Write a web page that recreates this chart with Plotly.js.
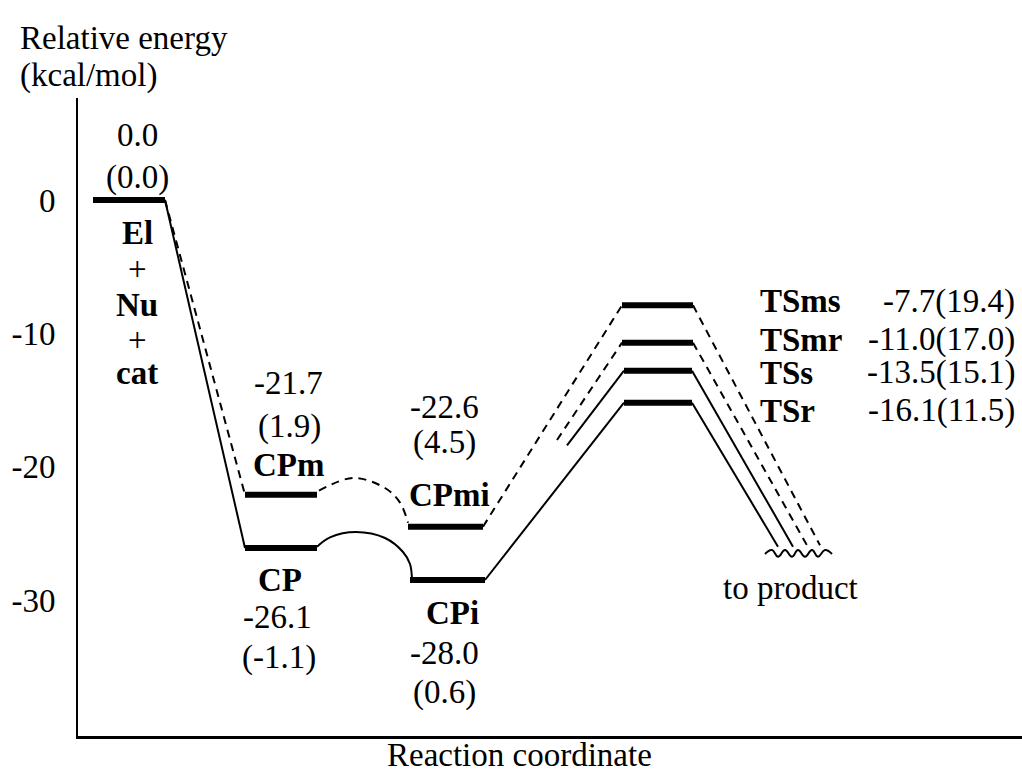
<!DOCTYPE html>
<html><head><meta charset="utf-8">
<script src="https://cdn.plot.ly/plotly-3.0.1.min.js"></script>
<style>html,body{margin:0;padding:0;background:#fff}</style>
</head><body>
<div id="chart" style="width:1022px;height:775px"></div>
<script>
// ---- data (reaction-coordinate positions and energy levels) ----
const stateNames   = ['El', 'CPm', 'CP', 'CPmi', 'CPi', 'TSms', 'TSmr', 'TSs', 'TSr'];
const stateLevel   = [0, -22.1, -26.1, -24.5, -28.5, -7.9, -10.7, -12.8, -15.2];
const stateStart   = [15, 167, 167, 330, 332, 544, 544, 546, 546];
const stateEnd     = [87, 239, 239, 405, 407, 615, 615, 614, 614];
const energyText   = ['0.0', '-21.7', '-26.1', '-22.6', '-28.0', '-7.7', '-11.0', '-13.5', '-16.1'];
const freeText     = ['0.0', '1.9', '-1.1', '4.5', '0.6', '19.4', '17.0', '15.1', '11.5'];

const yTickVals  = [0, -10, -20, -30];
const yTickText  = ['0', '-10', '-20', '-30'];

// solid pathway (CP / CPi / TSs / TSr)
const pathElCP_x   = [87, 167];        const pathElCP_y   = [0, -26.1];
const arcCP_x      = [239, 252, 278, 307, 325, 332, 334];
const arcCP_y      = [-26.0, -25.3, -24.9, -25.35, -26.4, -27.3, -28.5];
const pathCPiTSr_x = [407, 546];       const pathCPiTSr_y = [-28.5, -15.2];
const pathTSs_x    = [489, 546];       const pathTSs_y    = [-18.4, -12.8];
const outTSr_x     = [614, 700];       const outTSr_y     = [-15.2, -26.0];
const outTSs_x     = [614, 715];       const outTSs_y     = [-12.8, -26.0];
// dashed pathway (CPm / CPmi / TSms / TSmr)
const pathElCPm_x  = [87, 167];        const pathElCPm_y  = [0, -22.1];
const arcCPm_x     = [241, 275, 307, 322, 330];
const arcCPm_y     = [-21.8, -20.85, -21.6, -22.7, -24.2];
const pathCPmiTSms_x = [405, 544];     const pathCPmiTSms_y = [-24.5, -7.9];
const pathTSmr_x   = [479, 544];       const pathTSmr_y   = [-18.0, -10.7];
const outTSms_x    = [615, 742];       const outTSms_y    = [-7.9, -25.9];
const outTSmr_x    = [615, 729];       const outTSmr_y    = [-10.7, -25.9];
// wavy "to product" break
const waveX = [687, 694, 700, 707, 714, 720, 727, 734, 740, 747, 754];
const waveY = [-26.55, -26.25, -26.75, -26.25, -26.75, -26.25, -26.75, -26.25, -26.75, -26.25, -26.55];

// ---- chart ----
const FONT = 'Liberation Serif, Times New Roman, serif';
const FS = 33;
const traces = [];
function line(x, y, dash, shape) {
  traces.push({x: x, y: y, mode: 'lines', type: 'scatter', hoverinfo: 'skip', showlegend: false,
    line: {color: '#000', width: 2, dash: dash || 'solid', shape: shape || 'linear', smoothing: 1.0}});
}
line(pathElCP_x, pathElCP_y);
line(arcCP_x, arcCP_y, 'solid', 'spline');
line(pathCPiTSr_x, pathCPiTSr_y);
line(pathTSs_x, pathTSs_y);
line(outTSr_x, outTSr_y);
line(outTSs_x, outTSs_y);
line(pathElCPm_x, pathElCPm_y, '8px,6px');
line(arcCPm_x, arcCPm_y, '8px,6px', 'spline');
line(pathCPmiTSms_x, pathCPmiTSms_y, '8px,6px');
line(pathTSmr_x, pathTSmr_y, '8px,6px');
line(outTSms_x, outTSms_y, '8px,6px');
line(outTSmr_x, outTSmr_y, '8px,6px');
traces.push({x: waveX, y: waveY, mode: 'lines', type: 'scatter', hoverinfo: 'skip', showlegend: false,
  line: {color: '#000', width: 2, shape: 'spline', smoothing: 1.3}});
// level bars
stateNames.forEach((n, i) => {
  traces.push({x: [stateStart[i], stateEnd[i]], y: [stateLevel[i], stateLevel[i]], mode: 'lines',
    type: 'scatter', name: n, hoverinfo: 'name', showlegend: false, line: {color: '#000', width: 6}});
});

// ---- labels ----
const annotations = [];
function lab(text, i, xs, ys, extra) {
  const cx = (stateStart[i] + stateEnd[i]) / 2;
  annotations.push(Object.assign({text: text, x: cx, y: stateLevel[i], xref: 'x', yref: 'y',
    xshift: xs, yshift: ys, showarrow: false, xanchor: 'center', yanchor: 'middle',
    font: {family: FONT, size: FS, color: '#000'}}, extra || {}));
}
// El + Nu + cat
lab(energyText[0], 0, 8, 65);
lab('(' + freeText[0] + ')', 0, 8, 23);
lab('<b>El</b>', 0, 8, -33);
lab('+', 0, 8, -69);
lab('<b>Nu</b>', 0, 8, -105);
lab('+', 0, 8, -140);
lab('<b>cat</b>', 0, 8, -173);
// CPm
lab(energyText[1], 1, 7, 112);
lab('(' + freeText[1] + ')', 1, 8, 68);
lab('<b>CPm</b>', 1, 7, 30);
// CP
lab('<b>CP</b>', 2, -1, -32);
lab(energyText[2], 2, -4, -69);
lab('(' + freeText[2] + ')', 2, -2, -109);
// CPmi
lab(energyText[3], 3, -1, 120);
lab('(' + freeText[3] + ')', 3, -1, 84);
lab('<b>CPmi</b>', 3, 4, 32);
// CPi
lab('<b>CPi</b>', 4, 5, -33);
lab(energyText[4], 4, -3, -73);
lab('(' + freeText[4] + ')', 4, -3, -112);
// transition states
const tsShift = [4, 3, -2, -8];
[5, 6, 7, 8].forEach((i, k) => {
  annotations.push({text: '<b>' + stateNames[i] + '</b>', x: 680, y: stateLevel[i], xref: 'x', yref: 'y',
    yshift: tsShift[k], showarrow: false, xanchor: 'left', yanchor: 'middle',
    font: {family: FONT, size: FS, color: '#000'}});
  annotations.push({text: energyText[i] + '(' + freeText[i] + ')', x: 939, y: stateLevel[i], xref: 'x', yref: 'y',
    yshift: tsShift[k], showarrow: false, xanchor: 'right', yanchor: 'middle',
    font: {family: FONT, size: FS, color: '#000'}});
});
annotations.push({text: 'to product', x: 712, y: -29.1, xref: 'x', yref: 'y', showarrow: false,
  xanchor: 'center', yanchor: 'middle', font: {family: FONT, size: FS, color: '#000'}});
// axis titles (placed as in the reference)
annotations.push({text: 'Relative energy', x: -0.0636, y: 1.094, xref: 'paper', yref: 'paper', showarrow: false,
  xanchor: 'left', yanchor: 'middle', font: {family: FONT, size: FS, color: '#000'}});
annotations.push({text: '(kcal/mol)', x: -0.0636, y: 1.036, xref: 'paper', yref: 'paper', showarrow: false,
  xanchor: 'left', yanchor: 'middle', font: {family: FONT, size: FS, color: '#000'}});
annotations.push({text: 'Reaction coordinate', x: 0.468, y: -0.061, xref: 'paper', yref: 'paper', showarrow: false,
  xanchor: 'center', yanchor: 'bottom', font: {family: FONT, size: FS, color: '#000'}});

const layout = {
  width: 1022, height: 775,
  margin: {l: 78, r: 0, t: 98, b: 39, pad: 0},
  paper_bgcolor: '#fff', plot_bgcolor: '#fff',
  showlegend: false,
  xaxis: {range: [0, 944], showline: true, linewidth: 3, linecolor: '#000', showgrid: false,
    zeroline: false, showticklabels: false, ticks: '', fixedrange: true},
  yaxis: {range: [-40.2, 7.65], showline: true, linewidth: 2, linecolor: '#000', showgrid: false,
    zeroline: false, ticks: '', tickmode: 'array', tickvals: yTickVals, ticktext: yTickText,
    ticklabelstandoff: 14, tickfont: {family: FONT, size: 33, color: '#000'}, fixedrange: true},
  annotations: annotations
};
Plotly.newPlot('chart', traces, layout, {displayModeBar: false, staticPlot: true});
</script>
</body></html>
